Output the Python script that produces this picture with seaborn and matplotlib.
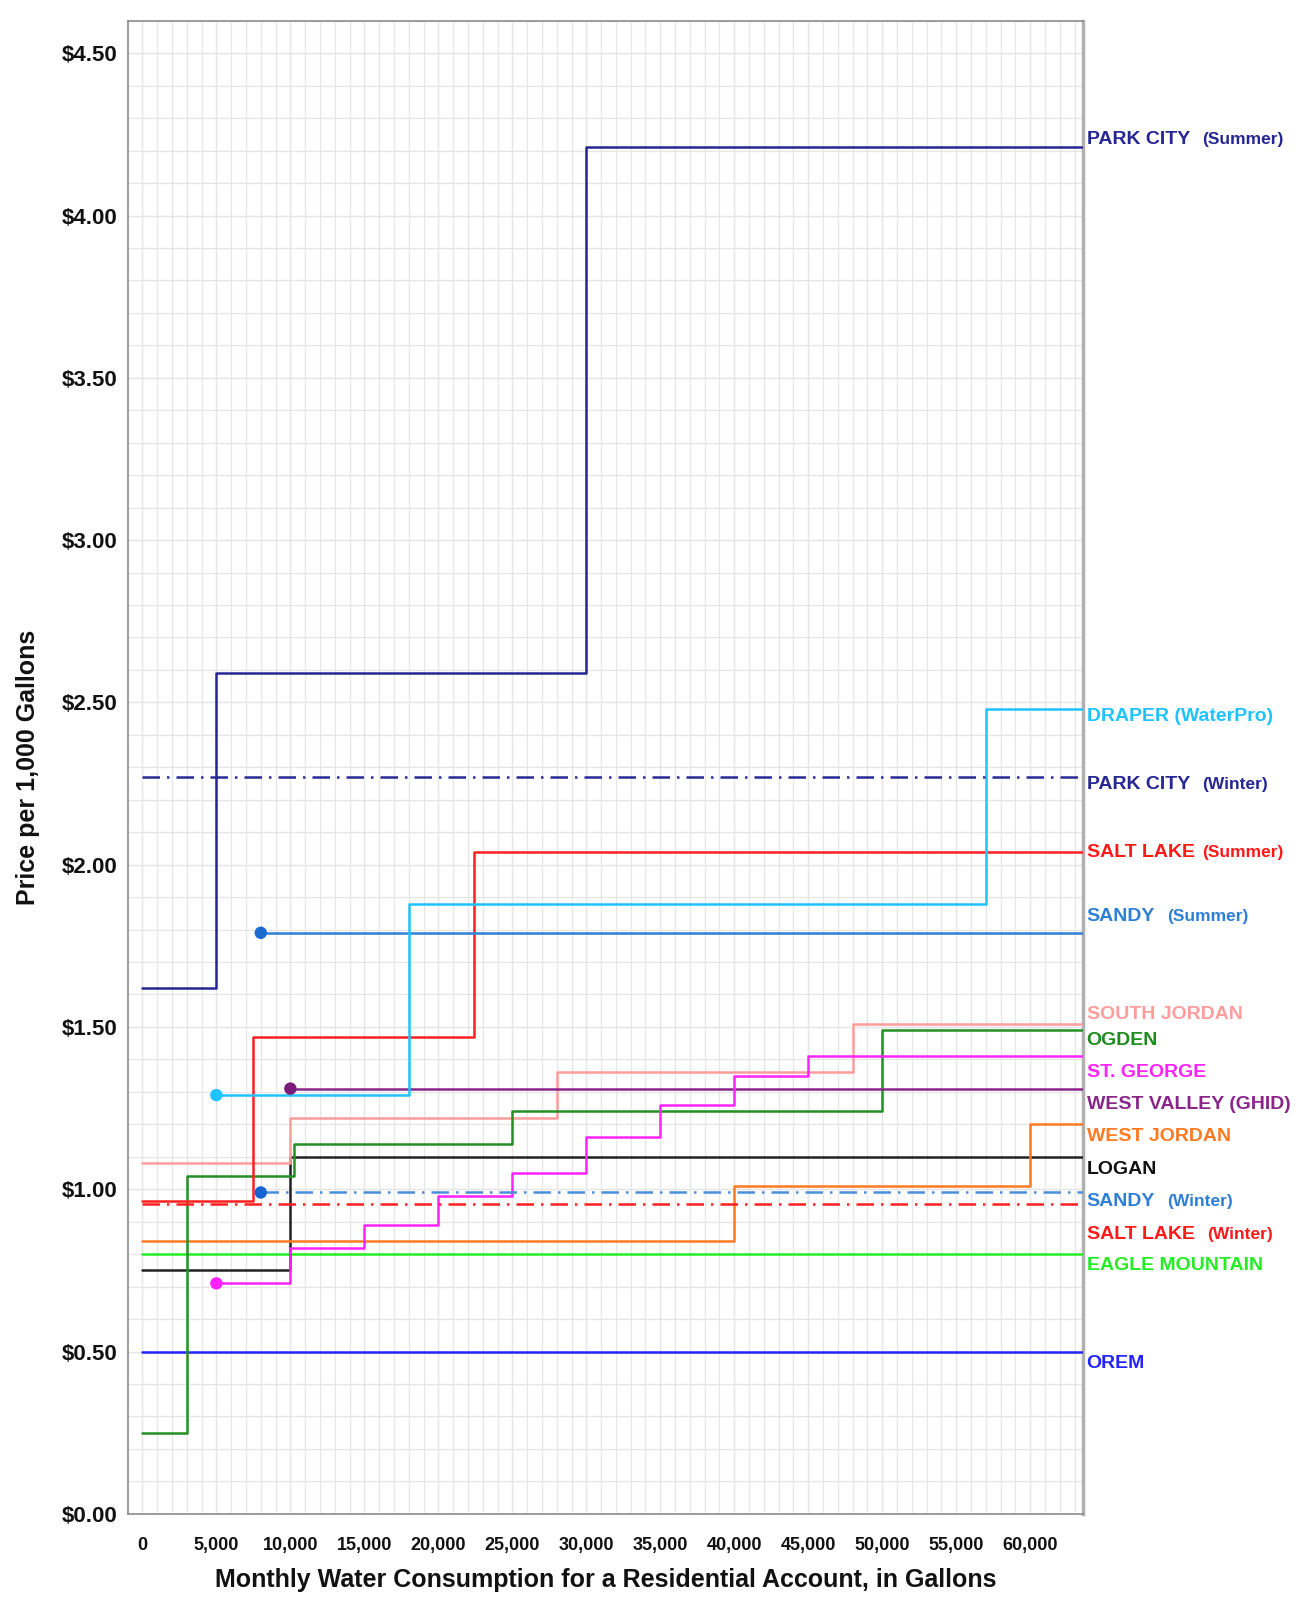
import matplotlib
matplotlib.use('Agg')
import matplotlib.pyplot as plt
from matplotlib.ticker import MultipleLocator, FuncFormatter
import pandas as pd
import seaborn as sns

# right end of the chart, every tier runs out to here
X_END = 64000

# rate tiers: start of each tier (gallons) and price per 1,000 gallons
park_city_summer_x = [0, 5000, 30000]
park_city_summer_y = [1.62, 2.59, 4.21]
park_city_winter_x = [0]
park_city_winter_y = [2.27]
draper_x = [5000, 18000, 57000]
draper_y = [1.29, 1.88, 2.48]
salt_lake_summer_x = [0, 7480, 22440]
salt_lake_summer_y = [0.965, 1.47, 2.04]
salt_lake_winter_x = [0]
salt_lake_winter_y = [0.955]
sandy_summer_x = [8000]
sandy_summer_y = [1.79]
sandy_winter_x = [8000]
sandy_winter_y = [0.99]
south_jordan_x = [0, 10000, 28000, 48000]
south_jordan_y = [1.08, 1.22, 1.36, 1.51]
ogden_x = [0, 3000, 10250, 25000, 50000]
ogden_y = [0.25, 1.04, 1.14, 1.24, 1.49]
st_george_x = [5000, 10000, 15000, 20000, 25000, 30000, 35000, 40000, 45000]
st_george_y = [0.71, 0.82, 0.89, 0.98, 1.05, 1.16, 1.26, 1.35, 1.41]
west_valley_x = [10000]
west_valley_y = [1.31]
west_jordan_x = [0, 40000, 60000]
west_jordan_y = [0.84, 1.01, 1.20]
logan_x = [0, 10000]
logan_y = [0.75, 1.10]
eagle_mountain_x = [0]
eagle_mountain_y = [0.80]
orem_x = [0]
orem_y = [0.50]

x_ticks = list(range(0, 60001, 5000))
y_ticks = [0, 0.5, 1.0, 1.5, 2.0, 2.5, 3.0, 3.5, 4.0, 4.5]

dashdot = (0, (7, 2.8, 1, 2.8))

# (x, y, color, linestyle, start dot colour or None)
series = [
    (orem_x, orem_y, '#2424ff', '-', None),
    (eagle_mountain_x, eagle_mountain_y, '#22ee22', '-', None),
    (logan_x, logan_y, '#222222', '-', None),
    (west_jordan_x, west_jordan_y, '#ff7a22', '-', None),
    (south_jordan_x, south_jordan_y, '#ff9c9c', '-', None),
    (ogden_x, ogden_y, '#229022', '-', None),
    (west_valley_x, west_valley_y, '#8a268a', '-', '#7a1a7a'),
    (st_george_x, st_george_y, '#ff22ff', '-', '#ff22ff'),
    (salt_lake_winter_x, salt_lake_winter_y, '#ff2020', dashdot, None),
    (sandy_winter_x, sandy_winter_y, '#4a8fdc', dashdot, '#1565d0'),
    (salt_lake_summer_x, salt_lake_summer_y, '#ff2020', '-', None),
    (sandy_summer_x, sandy_summer_y, '#2f7fd6', '-', '#1a6ad0'),
    (draper_x, draper_y, '#1ec3ff', '-', '#1ec3ff'),
    (park_city_winter_x, park_city_winter_y, '#2a2a96', dashdot, None),
    (park_city_summer_x, park_city_summer_y, '#262694', '-', None),
]

# right-hand labels: name, season, colour, vertical position, gap before season
labels = [
    ('PARK CITY', '(Summer)', '#262694', 4.233, 8.6),
    ('DRAPER (WaterPro)', '', '#1ec3ff', 2.457, 0),
    ('PARK CITY', '(Winter)', '#262694', 2.247, 8.6),
    ('SALT LAKE', '(Summer)', '#ff1a1a', 2.038, 5.6),
    ('SANDY', '(Summer)', '#2f7fd6', 1.839, 8.6),
    ('SOUTH JORDAN', '', '#ff9c9c', 1.539, 0),
    ('OGDEN', '', '#1f8c1f', 1.459, 0),
    ('ST. GEORGE', '', '#ff22ff', 1.361, 0),
    ('WEST VALLEY (GHID)', '', '#8a268a', 1.262, 0),
    ('WEST JORDAN', '', '#ff7a22', 1.163, 0),
    ('LOGAN', '', '#111111', 1.062, 0),
    ('SANDY', '(Winter)', '#2f7fd6', 0.961, 8.6),
    ('SALT LAKE', '(Winter)', '#ff1a1a', 0.861, 8.6),
    ('EAGLE MOUNTAIN', '', '#22ee22', 0.765, 0),
    ('OREM', '', '#2424ff', 0.462, 0),
]

sns.set_style('white')
plt.rcParams['font.family'] = ['Liberation Sans', 'DejaVu Sans']

fig = plt.figure(figsize=(13.07, 15.98), dpi=100)
ax = fig.add_axes([0.0982, 0.0527, 0.7302, 0.9343])

for xs, ys, color, ls, dot in series:
    df = pd.DataFrame({'gallons': xs + [X_END], 'price': ys + [ys[-1]]})
    sns.lineplot(data=df, x='gallons', y='price', ax=ax, color=color,
                 linestyle=ls, linewidth=1.8, drawstyle='steps-post',
                 errorbar=None, zorder=3)
    if dot is not None:
        sns.scatterplot(x=xs[:1], y=ys[:1], ax=ax, color=dot, s=80,
                        edgecolor='none', zorder=4)

ax.set_xlim(-950, 63550)
ax.set_ylim(0, 4.6)

ax.xaxis.set_major_locator(MultipleLocator(5000))
ax.xaxis.set_minor_locator(MultipleLocator(1000))
ax.yaxis.set_major_locator(MultipleLocator(0.5))
ax.yaxis.set_minor_locator(MultipleLocator(0.1))
ax.xaxis.remove_overlapping_locs = False
ax.yaxis.remove_overlapping_locs = False
ax.xaxis.set_major_formatter(FuncFormatter(lambda v, p: f'{int(v):,}'))
ax.yaxis.set_major_formatter(FuncFormatter(lambda v, p: f'${v:.2f}'))
ax.set_xticks(x_ticks)
ax.set_yticks(y_ticks)

ax.grid(which='both', color='#e6e6e6', linewidth=0.9, zorder=0)
ax.set_axisbelow(True)

ax.tick_params(axis='x', which='major', direction='in', length=47,
               width=1, color='#a0a0a0', pad=17)
ax.tick_params(axis='x', which='minor', direction='out', length=10,
               width=0.8, color='#c8c8c8')
ax.tick_params(axis='y', which='major', direction='in', length=21,
               width=1, color='#9a9a9a', pad=8)
ax.tick_params(axis='y', which='minor', direction='out', length=52,
               width=0.8, color='#f0f0f0')

for lab in ax.get_yticklabels():
    lab.set_fontsize(16)
    lab.set_fontweight('bold')
    lab.set_color('#111111')
for lab in ax.get_xticklabels():
    lab.set_family(['Liberation Sans Narrow', 'Liberation Sans'])
    lab.set_fontsize(13)
    lab.set_fontweight('bold')
    lab.set_color('#111111')

for side in ['left', 'bottom', 'top']:
    ax.spines[side].set_color('#8c8c8c')
    ax.spines[side].set_linewidth(1.2)
ax.spines['right'].set_color('#b0b0b0')
ax.spines['right'].set_linewidth(2.5)

ax.set_xlabel('Monthly Water Consumption for a Residential Account, in Gallons',
              fontsize=18, fontweight='bold', color='#111111', va='center')
ax.set_ylabel('Price per 1,000 Gallons', fontsize=18, fontweight='bold',
              color='#111111', va='center')
ax.xaxis.set_label_coords(0.5, -0.0444)
ax.yaxis.set_label_coords(-0.105, 0.5)

trans = ax.get_yaxis_transform()
for name, season, color, ypos, gap in labels:
    t = ax.text(1.0042, ypos, name, transform=trans, ha='left', va='center',
                fontsize=14, fontweight='bold', color=color, clip_on=False)
    if season:
        ax.annotate(season, xy=(1, 0.5), xycoords=t, xytext=(gap, 0),
                    textcoords='offset points', ha='left', va='center',
                    fontsize=12.5, fontweight='bold', color=color)

fig.savefig('out.png', dpi=100)
